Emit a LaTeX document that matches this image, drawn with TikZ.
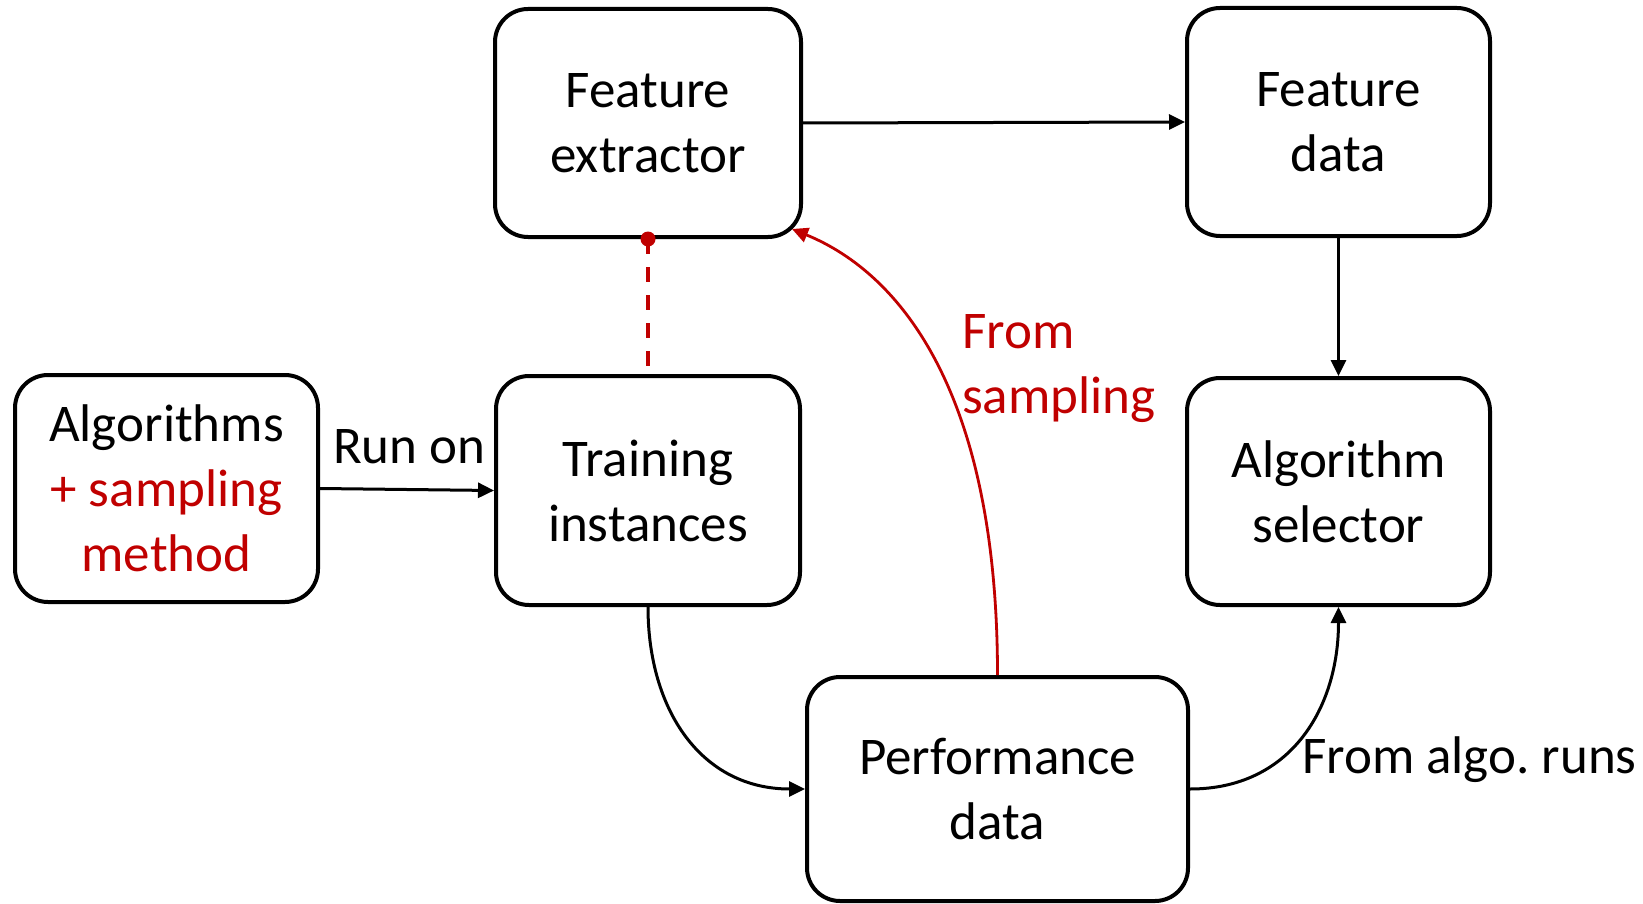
\documentclass[tikz,border=0pt]{standalone}
\usepackage{fontspec}
\setmainfont{Carlito}
\usetikzlibrary{arrows.meta}
\definecolor{darkred}{HTML}{C00000}
\begin{document}
\frenchspacing
\begin{tikzpicture}[x=1pt,y=-1pt,
  box/.style={draw=black,line width=4pt,rounded corners=33pt,align=center,inner sep=0pt,
    font=\fontsize{53}{65}\selectfont},
  conn/.style={line width=3pt,-{Triangle[length=16pt,width=15pt]}},
  redconn/.style={draw=darkred,line width=2.8pt,-{Triangle[length=16pt,width=15pt]}},
  lbl/.style={inner sep=0pt,font=\fontsize{53}{65}\selectfont}]
\useasboundingbox (0,0) rectangle (1643,904);
\node[box,minimum width=306pt,minimum height=228pt] (fe) at (648,123) {Feature\\extractor};
\node[box,minimum width=303pt,minimum height=228pt] (fd) at (1338.5,122) {Feature\\data};
\node[box,minimum width=303pt,minimum height=227pt] (alg) at (166.5,488.5) {Algorithms\\\textcolor{darkred}{+ sampling}\\\textcolor{darkred}{method}};
\node[box,minimum width=304pt,minimum height=229pt] (ti) at (648,490.5) {Training\\instances};
\node[box,minimum width=303pt,minimum height=227pt] (as) at (1338.5,491.5) {Algorithm\\selector};
\node[box,minimum width=381pt,minimum height=224pt] (pd) at (997.5,789) {Performance\\data};
\node[lbl,anchor=base west] (runon) at (333,463) {Run on};
\node[lbl,anchor=base west] (fromalgo) at (1302,773) {From algo. runs};
\node[lbl,anchor=west,align=left,text=darkred] (fromsamp) at (962,369) {From\\sampling};
\coordinate (tip) at ([shift={(-11,-10)}]fe.south east);
\draw[conn] (fe.east) -- (fd.west);
\draw[conn] (fd.south) -- (as.north);
\draw[conn] (alg.east) -- (ti.west);
\draw[conn] (ti.south) to[out=-90,in=180,looseness=1.1] (pd.west);
\draw[conn] (pd.east) to[out=0,in=-90,looseness=1.1] (as.south);
\draw[redconn] (pd.north) .. controls +(0,-280) and +(110,45) .. (tip);
\draw[darkred,line width=3.2pt,dash pattern=on 15pt off 13pt] (fe.south) -- (ti.north);
\fill[darkred] (fe.south) circle (7.5pt);
\end{tikzpicture}
\end{document}
